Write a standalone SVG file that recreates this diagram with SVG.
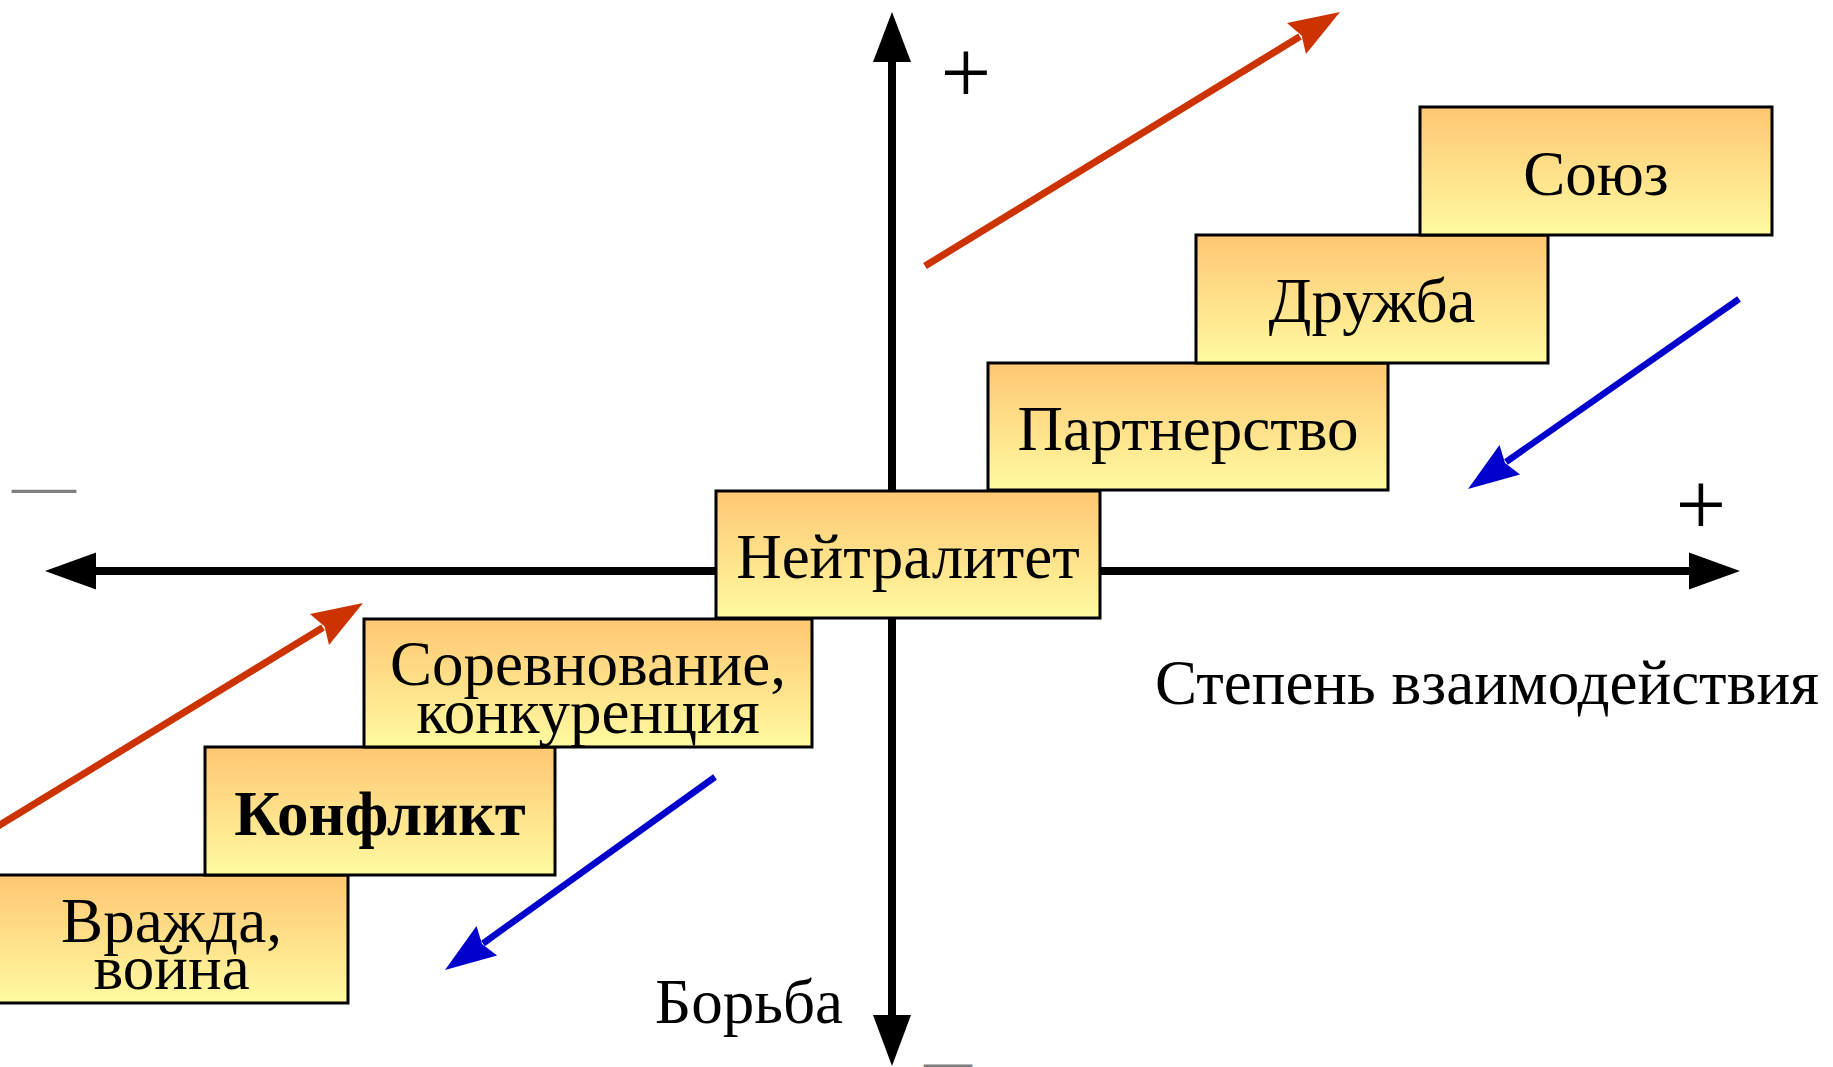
<svg xmlns="http://www.w3.org/2000/svg" width="1833" height="1067" viewBox="0 0 1833 1067">
<style>
  .box { stroke: #000; stroke-width: 3; fill: url(#g); }
  .t { font-family: "Liberation Serif", "Times New Roman", serif; font-size: 63px; fill: #000; text-anchor: middle; }
  .lbl { font-family: "Liberation Serif", "Times New Roman", serif; font-size: 63px; fill: #000; }
  .plus { font-family: "Liberation Serif", "Times New Roman", serif; font-size: 90px; fill: #000; text-anchor: middle; }
  .dash { font-family: "Liberation Serif", "Times New Roman", serif; fill: #808080; }
  .axis { stroke: #000; stroke-width: 8; fill: none; }
  .red { stroke: #CC3300; stroke-width: 7; fill: none; }
  .blue { stroke: #0000CC; stroke-width: 6.5; fill: none; }
</style>
<defs>
  <linearGradient id="g" x1="0" y1="0" x2="0" y2="1">
    <stop offset="0" stop-color="#FEC773"/>
    <stop offset="1" stop-color="#FFFAA0"/>
  </linearGradient>
</defs>
<rect x="0" y="0" width="1833" height="1067" fill="#fff"/>

<g id="axes">
  <line class="axis" x1="892" y1="60" x2="892" y2="1017"/>
  <polygon points="892,12 873,62 911,62" fill="#000"/>
  <polygon points="892,1066 873,1015 911,1015" fill="#000"/>
  <line class="axis" x1="94" y1="571" x2="1691" y2="571"/>
  <polygon points="45,571 96,552.5 96,589.5" fill="#000"/>
  <polygon points="1740,571 1689,552.5 1689,589.5" fill="#000"/>
</g>

<g id="axis-labels">
  <text class="plus" x="966" y="103">+</text>
  <text class="plus" x="1701" y="535">+</text>
  <text class="dash" x="12" y="506" font-size="64">—</text>
  <text class="dash" x="924" y="1077" font-size="48">—</text>
  <text class="lbl" x="1155" y="704" font-size="63.3">Степень взаимодействия</text>
  <text class="lbl" x="655" y="1023">Борьба</text>
</g>

<g id="node-vrazhda">
  <rect class="box" x="-5" y="875" width="353" height="128"/>
  <text class="t" x="171.5" y="942">Вражда,</text>
  <text class="t" x="171.5" y="989">война</text>
</g>
<g id="node-konflikt">
  <rect class="box" x="205" y="747" width="350" height="128"/>
  <text class="t" x="380" y="835" font-weight="bold">Конфликт</text>
</g>
<g id="node-sorevnovanie">
  <rect class="box" x="364" y="619" width="448" height="128"/>
  <text class="t" x="588" y="685">Соревнование,</text>
  <text class="t" x="588" y="733">конкуренция</text>
</g>
<g id="node-neitralitet">
  <rect class="box" x="716" y="491" width="384" height="127"/>
  <text class="t" x="908" y="578">Нейтралитет</text>
</g>
<g id="node-partnerstvo">
  <rect class="box" x="988" y="363" width="400" height="127"/>
  <text class="t" x="1188" y="450">Партнерство</text>
</g>
<g id="node-druzhba">
  <rect class="box" x="1196" y="235" width="352" height="128"/>
  <text class="t" x="1372" y="322">Дружба</text>
</g>
<g id="node-soyuz">
  <rect class="box" x="1420" y="107" width="352" height="128"/>
  <text class="t" x="1596" y="195">Союз</text>
</g>

<g id="connectors">
  <line class="red" x1="925" y1="266" x2="1300" y2="36.5"/>
  <polygon points="1340,12 1287,23 1301.6,35.5 1306,54" fill="#CC3300"/>
  <line class="red" x1="-5" y1="828" x2="323" y2="627.5"/>
  <polygon points="363,603 310,614 324.6,626.5 329,645" fill="#CC3300"/>
  <line class="blue" x1="1739" y1="299" x2="1506" y2="462"/>
  <polygon points="1468,489 1499.5,445 1505,463 1520.1,474.4" fill="#0000CC"/>
  <line class="blue" x1="715" y1="777" x2="483" y2="943.5"/>
  <polygon points="445,970 476.5,926 482,944 497.1,955.4" fill="#0000CC"/>
</g>
</svg>
